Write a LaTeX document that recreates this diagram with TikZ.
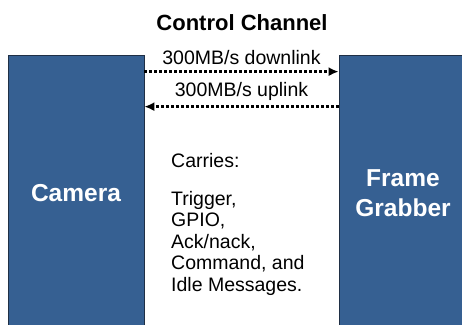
\documentclass[tikz,border=0pt]{standalone}
\usepackage{fontspec}
\setmainfont{Liberation Sans}
\usetikzlibrary{arrows.meta,positioning}
\definecolor{boxBlue}{HTML}{366092}
\definecolor{boxEdge}{HTML}{1F2F45}

\begin{document}
\begin{tikzpicture}[x=1pt,y=1pt,>=Latex]
  \tikzstyle{unitbox}=[draw=boxEdge,fill=boxBlue,line width=.7pt,minimum height=276pt,text=white,align=center,font=\fontsize{24.5}{30}\selectfont\bfseries]
  \tikzstyle{linkarrow}=[->,line width=3pt,dash pattern=on 3pt off 2pt,arrows={-Latex[length=10pt,width=9pt]}]
  \tikzstyle{linklabel}=[font=\fontsize{19.5}{23}\selectfont,inner sep=0pt]
  \useasboundingbox (0,0) rectangle (462,324);
  \clip (0,0) rectangle (462,324);
  \node[unitbox,minimum width=136pt] (camera) at (76,131) {Camera};
  \node[unitbox,minimum width=128pt] (grabber) at (403,131) {Frame\\Grabber};
  \node[font=\fontsize{22}{26}\selectfont\bfseries] (title) at (242,301) {Control Channel};
  \draw[linkarrow] ([yshift=-17pt]camera.north east) -- node[linklabel,above=5pt]{300MB/s downlink} ([yshift=-17pt]grabber.north west);
  \draw[linkarrow] ([yshift=-52pt]grabber.north west) -- node[linklabel,above=5pt]{300MB/s uplink} ([yshift=-52pt]camera.north east);
  \node[linklabel,anchor=base west] (carries) at (171,157) {Carries:};
  \node[linklabel,anchor=north west,align=left,font=\fontsize{19.5}{21.5}\selectfont] (msgs) at (171,133) {Trigger,\\GPIO,\\Ack/nack,\\Command, and\\Idle Messages.};
\end{tikzpicture}
\end{document}
